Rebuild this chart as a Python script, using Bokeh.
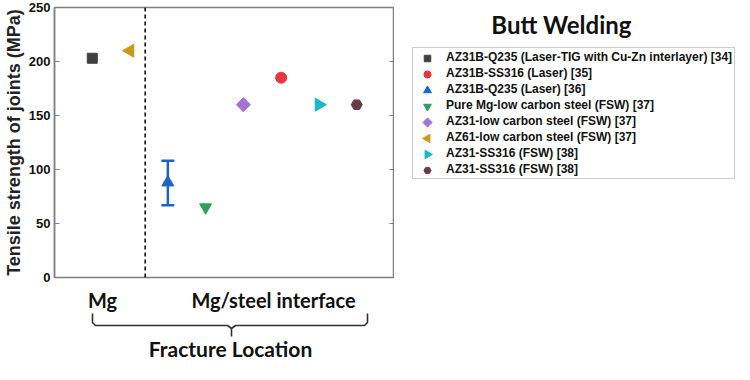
import math
from bokeh.plotting import figure
from bokeh.layouts import row, column
from bokeh.models import (Range1d, Legend, LegendItem, Label, Span,
                          Whisker, TeeHead, ColumnDataSource, FixedTicker)
from bokeh.embed import file_html
from bokeh.resources import INLINE

# ---------------- data ----------------
series_labels = [
    "AZ31B-Q235 (Laser-TIG with Cu-Zn interlayer) [34]",
    "AZ31B-SS316 (Laser) [35]",
    "AZ31B-Q235 (Laser) [36]",
    "Pure Mg-low carbon steel (FSW) [37]",
    "AZ31-low carbon steel (FSW) [37]",
    "AZ61-low carbon steel (FSW) [37]",
    "AZ31-SS316 (FSW) [38]",
    "AZ31-SS316 (FSW) [38]",
]
x_pos = [1, 6, 3, 4, 5, 2, 7, 8]
strength = [203, 185, 88, 65, 160, 210, 160, 160]
err_lower = [None, None, 67, None, None, None, None, None]
err_upper = [None, None, 108, None, None, None, None, None]
markers = ["square", "circle", "triangle", "inverted_triangle", "square",
           "triangle", "triangle", "hex"]
angles = [0, 0, 0, 0, 0.7854, 1.5708, -1.5708, 0]
sizes = [10, 11, 12, 12, 10, 13, 13, 11]
colors = ["#404040", "#e8343c", "#1e64c8", "#2e9e5e", "#a772d8",
          "#c89a1a", "#19b8c4", "#6a3c46"]
y_ticks = [0, 50, 100, 150, 200, 250]
region_labels = ["Mg", "Mg/steel interface"]
x_label = "Fracture Location"
y_label = "Tensile strength of joints (MPa)"
title_text = "Butt Welding"

XMIN, XMAX = 0, 9
LEFT = 50          # left border (px)
FW = 340           # frame width (px)
FH = 270           # frame height (px)
TOP = 7
P_BOTTOM = 8
TOTAL_H = 364
B_H = TOTAL_H - TOP - FH - P_BOTTOM
ORX, ORY = 5, 1    # observed page origin in the picture
FRAME_L = ORX + LEFT

# ---------------- main plot ----------------
p = figure(frame_width=FW, frame_height=FH, output_backend="svg", toolbar_location=None,
           x_range=Range1d(XMIN, XMAX), y_range=Range1d(0, 250),
           min_border_left=LEFT, min_border_right=0, min_border_top=TOP,
           min_border_bottom=P_BOTTOM)
p.xaxis.visible = False
p.xgrid.visible = False
p.ygrid.visible = False
p.outline_line_color = "#808080"
p.outline_line_width = 1.5

ax = p.yaxis[0]
ax.ticker = FixedTicker(ticks=y_ticks)
ax.minor_tick_line_color = None
ax.major_tick_in = 5
ax.major_tick_out = 0
ax.major_tick_line_color = "#808080"
ax.axis_line_color = "#808080"
ax.axis_line_width = 1.5
ax.major_label_text_font = "Liberation Sans"
ax.major_label_text_font_style = "bold"
ax.major_label_text_font_size = "13px"
ax.major_label_text_color = "#111111"
ax.major_label_standoff = 4
ax.axis_label = y_label
ax.axis_label_text_font = "Liberation Sans"
ax.axis_label_text_font_style = "bold"
ax.axis_label_text_font_size = "18px"
ax.axis_label_text_color = "#222222"
ax.axis_label_standoff = 2

# inward ticks on the right frame edge
p.ray(x=[XMAX] * len(y_ticks), y=y_ticks, length=5, length_units="screen",
      angle=math.pi, line_color="#808080", line_width=1)

p.add_layout(Span(location=2.4, dimension="height", line_color="black",
                  line_width=1.5, line_dash="4 3"))

src_err = ColumnDataSource(dict(
    x=[x for x, l in zip(x_pos, err_lower) if l is not None],
    lower=[l for l in err_lower if l is not None],
    upper=[u for u in err_upper if u is not None]))
p.add_layout(Whisker(source=src_err, base="x", lower="lower", upper="upper",
                     line_color="#1e64c8", line_width=2.5,
                     lower_head=TeeHead(size=13, line_color="#1e64c8", line_width=2.5),
                     upper_head=TeeHead(size=13, line_color="#1e64c8", line_width=2.5)))

for i in range(len(series_labels)):
    p.scatter([x_pos[i]], [strength[i]], marker=markers[i], size=sizes[i],
              angle=angles[i], fill_color=colors[i], line_color=colors[i])

# ---------------- bottom strip: category labels + brace ----------------
B_TOP = ORY + TOP + FH + P_BOTTOM
b = figure(frame_width=FW, height=B_H, output_backend="svg", toolbar_location=None,
           x_range=p.x_range, y_range=Range1d(B_TOP + B_H, B_TOP),
           min_border_left=LEFT, min_border_right=0, min_border_top=0,
           min_border_bottom=0)
b.axis.visible = False
b.grid.visible = False
b.outline_line_color = None

def bx(px):
    return XMIN + (px - FRAME_L) * (XMAX - XMIN) / FW

for txt, cx in zip(region_labels, [103, 274]):
    b.add_layout(Label(x=bx(cx), y=300, text=txt, text_font="Lato",
                       text_font_style="bold", text_font_size="20px",
                       text_color="#111111", text_align="center",
                       text_baseline="middle"))
b.add_layout(Label(x=bx(231), y=349, text=x_label, text_font="Lato",
                   text_font_style="bold", text_font_size="21px", text_color="#111111",
                   text_align="center", text_baseline="middle"))

brace_l_px = [(93, 314), (93, 323), (96, 326), (228, 326), (232, 329), (232, 337)]
brace_r_px = [(368, 314), (368, 323), (365, 326), (236, 326), (232, 329)]
b.multi_line(xs=[[bx(a) for a, _ in brace_l_px], [bx(a) for a, _ in brace_r_px]],
             ys=[[c for _, c in brace_l_px], [c for _, c in brace_r_px]],
             line_color="#303030", line_width=1.6)

# ---------------- right panel: title + legend ----------------
C_L = FRAME_L + FW
RW = 734 - LEFT - FW - 2
c = figure(width=RW, height=TOTAL_H, output_backend="svg", toolbar_location=None,
           x_range=Range1d(C_L, C_L + RW), y_range=Range1d(ORY + TOTAL_H, ORY),
           min_border=0)
c.axis.visible = False
c.grid.visible = False
c.outline_line_color = None

c.add_layout(Label(x=562, y=25, text=title_text, text_font="Lato",
                   text_font_style="bold", text_font_size="24px", text_color="#111111",
                   text_align="center", text_baseline="middle"))

LEG_L, LEG_B = 413, 180
PAD, ROW_H, SP, GW = 2, 14, 2, 26
n = len(series_labels)
LEG_T = LEG_B - (2 * PAD + n * ROW_H + (n - 1) * SP)

items = []
for i in range(n):
    # transparent stand-ins (same data, outside this panel's view) for the legend rows
    r = c.scatter([x_pos[i]], [strength[i]], marker=markers[i], size=sizes[i],
                  fill_alpha=0, line_alpha=0)
    items.append(LegendItem(label=series_labels[i], renderers=[r]))

legend = Legend(items=items, location=(LEG_L - C_L, ORY + TOTAL_H - LEG_B),
                label_text_font="Liberation Sans", label_text_font_style="bold",
                label_text_font_size="12px", label_text_color="#111111",
                label_height=ROW_H, glyph_height=ROW_H, glyph_width=GW, spacing=SP,
                padding=PAD, margin=0, label_standoff=5,
                border_line_color="#999999", border_line_width=1.2,
                background_fill_alpha=0)
c.add_layout(legend, "center")

# legend symbols with their orientation
src_leg = ColumnDataSource(dict(
    x=[LEG_L + PAD + GW / 2] * n,
    y=[LEG_T + PAD + ROW_H / 2 + k * (ROW_H + SP) for k in range(n)],
    marker=markers, size=[s * 0.65 for s in sizes], angle=angles, color=colors))
c.scatter("x", "y", source=src_leg, marker="marker", size="size", angle="angle",
          fill_color="color", line_color="color")

layout = row(column(p, b), c)
open("out.html", "w").write(file_html(layout, INLINE))
